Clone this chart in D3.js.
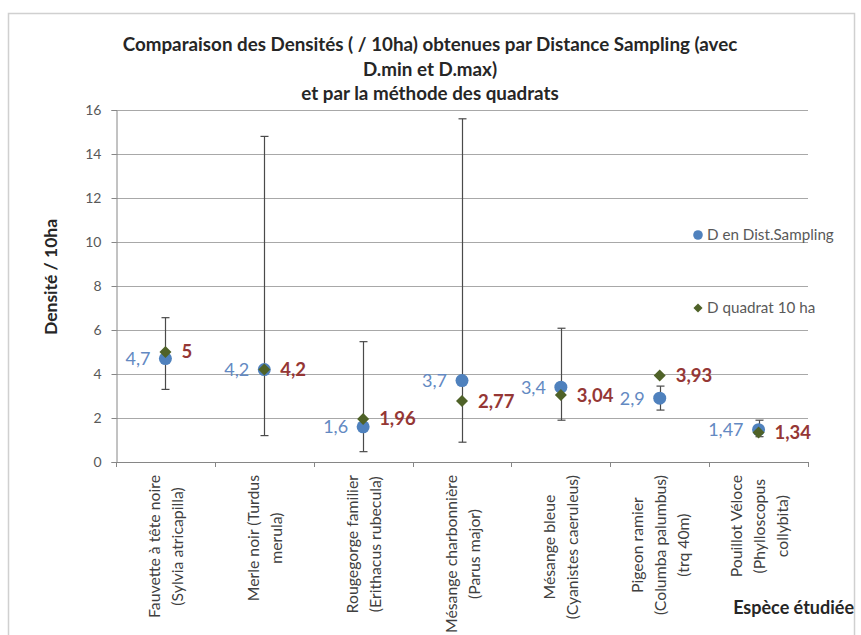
<!DOCTYPE html>
<html>
<head>
<meta charset="utf-8">
<script src="https://cdn.jsdelivr.net/npm/d3@7"></script>
<style>
  html, body { margin: 0; padding: 0; background: #fff; }
  svg { display: block; font-family: Lato, "Open Sans", sans-serif; }
</style>
</head>
<body>
<svg id="chart" width="861" height="635"></svg>
<script>
// Species (each entry = label lines as printed under the axis)
const species = [
  ["Fauvette à tête noire", "(Sylvia atricapilla)"],
  ["Merle noir (Turdus", "merula)"],
  ["Rougegorge familier", "(Erithacus rubecula)"],
  ["Mésange charbonnière", "(Parus major)"],
  ["Mésange bleue", "(Cyanistes caeruleus)"],
  ["Pigeon ramier", "(Columba palumbus)", "(trq 40m)"],
  ["Pouillot Véloce", "(Phylloscopus", "collybita)"]
];
// Density by Distance Sampling, with D.min / D.max bounds
const dDistSampling = [4.7, 4.2, 1.6, 3.7, 3.4, 2.9, 1.47];
const dMin = [3.3, 1.2, 0.47, 0.9, 1.9, 2.36, 1.15];
const dMax = [6.56, 14.8, 5.47, 15.6, 6.08, 3.45, 1.9];
// Density by the 10 ha quadrat method
const dQuadrat = [5, 4.2, 1.96, 2.77, 3.04, 3.93, 1.34];
const yTicks = [0, 2, 4, 6, 8, 10, 12, 14, 16];
const titleLines = [
  "Comparaison des Densités ( / 10ha) obtenues par Distance Sampling (avec",
  "D.min et D.max)",
  "et par la méthode des quadrats"
];
const legendLabels = ["D en Dist.Sampling", "D quadrat 10 ha"];

const svg = d3.select("#chart");
const plot = { left: 116, right: 808, top: 110, bottom: 462 };

const x = d3.scaleBand().domain(d3.range(species.length)).range([plot.left, plot.right]);
const y = d3.scaleLinear().domain([0, 16]).range([plot.bottom, plot.top]);
const fmt = v => String(v).replace(".", ",");

const blue = "#4f81bd", green = "#4f6228", labelBlue = "#6389c2", labelRed = "#953735";

// chart frame
svg.append("rect").attr("x", 8.5).attr("y", 13.5).attr("width", 846).attr("height", 640)
  .attr("fill", "none").attr("stroke", "#d0d0d0").attr("stroke-width", 1.5);

// title
svg.append("g").selectAll("text").data(titleLines).join("text")
  .attr("x", 430).attr("y", (d, i) => 51 + i * 24.5)
  .attr("text-anchor", "middle").attr("font-weight", "bold").attr("font-size", 18.8)
  .attr("fill", "#262626").text(d => d);

// gridlines
svg.append("g").selectAll("line").data(yTicks.filter(t => t > 0)).join("line")
  .attr("x1", plot.left).attr("x2", plot.right)
  .attr("y1", d => Math.round(y(d)) + 0.5).attr("y2", d => Math.round(y(d)) + 0.5)
  .attr("stroke", "#a8a8a8").attr("stroke-width", 1);

// y axis
const yAxis = svg.append("g").attr("transform", `translate(${plot.left + 0.5},0)`)
  .call(d3.axisLeft(y).tickValues(yTicks).tickSize(5).tickPadding(10));
yAxis.select(".domain").attr("stroke", "#868686");
yAxis.selectAll(".tick line").attr("stroke", "#868686");
yAxis.selectAll(".tick text").attr("font-size", 14).attr("fill", "#595959")
  .attr("font-family", "Lato, sans-serif");

// x axis (category boundaries as ticks)
const xg = svg.append("g");
xg.append("line").attr("x1", plot.left).attr("x2", plot.right)
  .attr("y1", plot.bottom + 0.5).attr("y2", plot.bottom + 0.5).attr("stroke", "#868686");
xg.selectAll("line.tk").data(d3.range(species.length + 1)).join("line").attr("class", "tk")
  .attr("x1", i => Math.round(plot.left + i * x.bandwidth()) + 0.5)
  .attr("x2", i => Math.round(plot.left + i * x.bandwidth()) + 0.5)
  .attr("y1", plot.bottom).attr("y2", plot.bottom + 5).attr("stroke", "#868686");

// rotated category labels, block anchored under the axis, lines centred
const lineGap = 23;
species.forEach((lines, i) => {
  const cx = x(i) + x.bandwidth() / 2;
  const g = svg.append("g");
  const texts = g.selectAll("text").data(lines).join("text")
    .attr("font-size", 15.8).attr("fill", "#404040").attr("text-anchor", "middle")
    .text(d => d);
  const maxLen = d3.max(texts.nodes(), n => n.getComputedTextLength());
  const cy = plot.bottom + 13 + maxLen / 2;
  texts.attr("transform", (d, k) => {
    const lx = cx + (k - (lines.length - 1) / 2) * lineGap + 6;
    return `translate(${lx},${cy}) rotate(-90)`;
  });
});

// axis titles
svg.append("text").attr("transform", "translate(57,277) rotate(-90)")
  .attr("text-anchor", "middle").attr("font-weight", "bold").attr("font-size", 17.5)
  .attr("fill", "#262626").text("Densité / 10ha");
svg.append("text").attr("x", 854).attr("y", 614).attr("text-anchor", "end")
  .attr("font-weight", "bold").attr("font-size", 18).attr("fill", "#262626")
  .text("Espèce étudiée");

// error bars (D.min – D.max)
const eb = svg.append("g").attr("stroke", "#4a4a4a").attr("stroke-width", 1.2);
species.forEach((s, i) => {
  const cx = Math.round(x(i) + x.bandwidth() / 2) + 0.5;
  eb.append("line").attr("x1", cx).attr("x2", cx).attr("y1", y(dMin[i])).attr("y2", y(dMax[i]));
  [dMin[i], dMax[i]].forEach(v => eb.append("line")
    .attr("x1", cx - 4).attr("x2", cx + 4).attr("y1", y(v)).attr("y2", y(v)));
});

// markers
const cxOf = i => x(i) + x.bandwidth() / 2;
svg.append("g").selectAll("circle").data(dDistSampling).join("circle")
  .attr("cx", (d, i) => cxOf(i)).attr("cy", d => y(d)).attr("r", 6.5).attr("fill", blue);
const diamond = d3.symbol().type(d3.symbolSquare).size(72);
svg.append("g").selectAll("path").data(dQuadrat).join("path")
  .attr("d", diamond)
  .attr("transform", (d, i) => `translate(${cxOf(i)},${y(d)}) rotate(45)`)
  .attr("fill", green);

// value labels
svg.append("g").selectAll("text").data(dDistSampling).join("text")
  .attr("x", (d, i) => cxOf(i) - 15).attr("y", d => y(d)).attr("dy", "0.35em")
  .attr("text-anchor", "end").attr("font-size", 18).attr("fill", labelBlue)
  .text(d => fmt(d));
svg.append("g").selectAll("text").data(dQuadrat).join("text")
  .attr("x", (d, i) => cxOf(i) + 16).attr("y", d => y(d)).attr("dy", "0.35em")
  .attr("text-anchor", "start").attr("font-size", 18.5).attr("font-weight", "bold")
  .attr("fill", labelRed).text(d => fmt(d));

// legend
const lg = svg.append("g");
lg.append("circle").attr("cx", 698).attr("cy", 235).attr("r", 4.8).attr("fill", blue);
lg.append("path").attr("d", d3.symbol().type(d3.symbolSquare).size(42))
  .attr("transform", "translate(698,308) rotate(45)").attr("fill", green);
lg.selectAll("text").data(legendLabels).join("text")
  .attr("x", 707).attr("y", (d, i) => i === 0 ? 235 : 308).attr("dy", "0.35em")
  .attr("font-size", 15.2).attr("fill", "#595959").text(d => d);
</script>
</body>
</html>
